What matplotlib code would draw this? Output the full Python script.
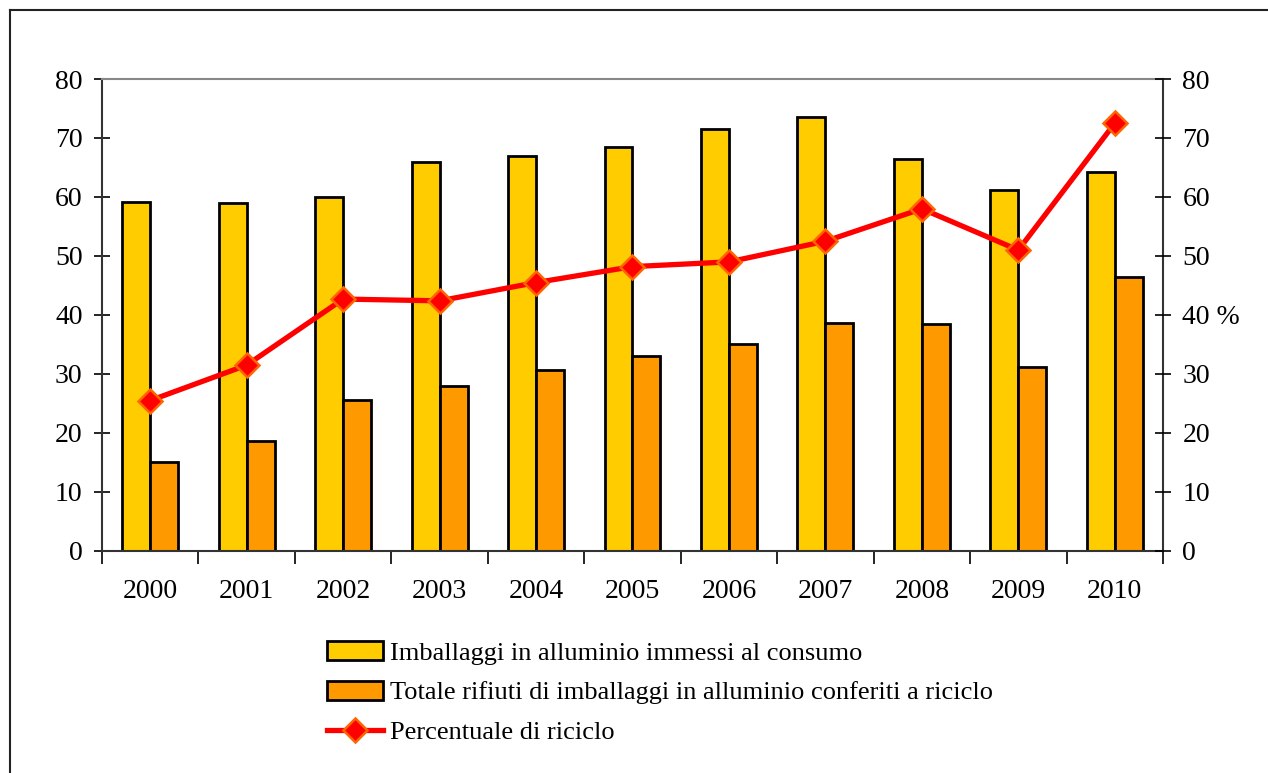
import numpy as np
import matplotlib.pyplot as plt
from matplotlib.lines import Line2D
from matplotlib.ticker import FixedLocator, FuncFormatter

plt.rcParams['font.family'] = ['Liberation Serif', 'DejaVu Serif']

anni = ['2000', '2001', '2002', '2003', '2004', '2005', '2006', '2007', '2008', '2009', '2010']
immessi = [59.2, 59.0, 60.0, 66.0, 67.0, 68.5, 71.5, 73.5, 66.4, 61.2, 64.2]
riciclati = [15.0, 18.6, 25.6, 28.0, 30.6, 33.1, 35.0, 38.6, 38.5, 31.2, 46.4]
percentuale = [25.5, 31.5, 42.7, 42.4, 45.5, 48.2, 49.0, 52.5, 58.0, 51.0, 72.5]

giallo = '#FFCC00'
arancio = '#FF9900'
fs = 20

fig = plt.figure(figsize=(12.68, 7.73), dpi=100)
ax = fig.add_axes([0.0804, 0.2872, 0.8368, 0.6106])
x = np.arange(len(anni))
w = 0.29

b1 = ax.bar(x - w / 2, immessi, w, color=giallo, edgecolor='black', linewidth=2,
            label='Imballaggi in alluminio immessi al consumo')
b2 = ax.bar(x + w / 2, riciclati, w, color=arancio, edgecolor='black', linewidth=2,
            label='Totale rifiuti di imballaggi in alluminio conferiti a riciclo')

ax.set_xlim(-0.5, len(anni) - 0.5)
ax.set_ylim(0, 80)
ax.set_yticks(range(0, 81, 10))
ax.tick_params(axis='y', direction='inout', length=12, width=1.2, labelsize=fs, pad=8)
ax.set_xticks(x)
ax.set_xticklabels(anni)
ax.tick_params(axis='x', which='major', length=0, labelsize=fs, pad=20)
ax.xaxis.set_minor_locator(FixedLocator(np.arange(-0.5, len(anni), 1.0)))
ax.tick_params(axis='x', which='minor', direction='out', length=9, width=1.2)

for s in ['left', 'bottom', 'right']:
    ax.spines[s].set_color('#333333')
    ax.spines[s].set_linewidth(1.5)
ax.spines['top'].set_color('#888888')
ax.spines['top'].set_linewidth(1.5)

ax2 = ax.twinx()
ax2.set_ylim(0, 80)
ax2.yaxis.set_major_locator(FixedLocator(range(0, 81, 10)))
ax2.yaxis.set_major_formatter(FuncFormatter(lambda v, p: '40 %' if v == 40 else '%d' % v))
ax2.tick_params(axis='y', direction='inout', length=12, width=1.2, labelsize=fs, pad=8)
for s in ax2.spines.values():
    s.set_visible(False)

ln, = ax2.plot(x, percentuale, color='#FF0000', linewidth=3.8, marker='D', markersize=12,
               markerfacecolor='#FF0000', markeredgecolor='#FF6600', markeredgewidth=1.8,
               label='Percentuale di riciclo', zorder=5)

fig.legend(handles=[b1, b2, ln], loc='upper left', bbox_to_anchor=(0.2477, 0.188),
           frameon=False, fontsize=19, handlelength=2.1, handleheight=0.75,
           handletextpad=0.27, labelspacing=0.6, borderpad=0)

# cornice del grafico
fig.add_artist(Line2D([10 / 1268, 10 / 1268], [0, 1 - 10 / 773], transform=fig.transFigure,
                      color='#222222', linewidth=1.5))
fig.add_artist(Line2D([10 / 1268, 1], [1 - 10 / 773, 1 - 10 / 773], transform=fig.transFigure,
                      color='#222222', linewidth=1.5))

fig.savefig('out.png', dpi=100)
